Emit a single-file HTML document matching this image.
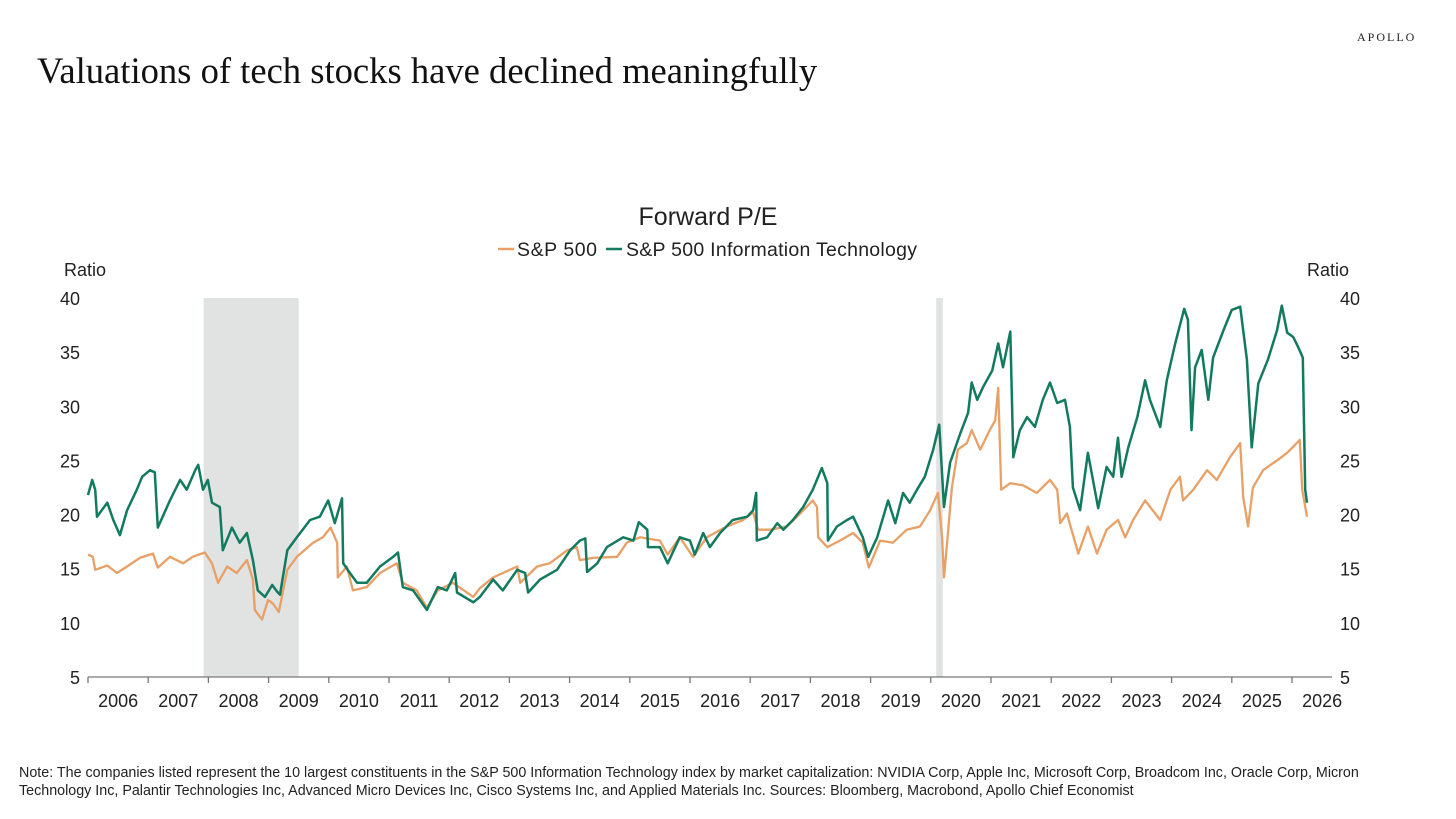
<!DOCTYPE html>
<html><head><meta charset="utf-8">
<style>
html,body{margin:0;padding:0;background:#fff;}
body{width:1456px;height:819px;position:relative;overflow:hidden;font-family:"Liberation Sans",sans-serif;}
#headline{position:absolute;left:37px;top:49px;font-family:"Liberation Serif",serif;font-size:36.6px;color:#111;white-space:nowrap;}
#brand{position:absolute;left:1357px;top:30px;font-family:"Liberation Serif",serif;font-size:12px;letter-spacing:2px;color:#222;}
#note{position:absolute;left:19px;top:764px;width:1415px;font-size:14.3px;line-height:18px;color:#222;}
svg{position:absolute;left:0;top:0;}
</style></head>
<body>
<div id="headline">Valuations of tech stocks have declined meaningfully</div>
<div id="brand">APOLLO</div>
<svg id="chart" width="1456" height="819">
<text x="708" y="225" text-anchor="middle" font-size="25" fill="#222">Forward P/E</text>
<g>
<line x1="498" y1="249" x2="514" y2="249" stroke="#e8a066" stroke-width="2.5"/>
<text x="517" y="256" font-size="19.5" fill="#222" textLength="80">S&amp;P 500</text>
<line x1="606" y1="249" x2="622" y2="249" stroke="#127a5e" stroke-width="2.5"/>
<text x="626" y="256" font-size="19.5" fill="#222" textLength="291">S&amp;P 500 Information Technology</text>
</g>
<text x="64" y="276" font-size="18" fill="#222">Ratio</text>
<text x="1307" y="276" font-size="18" fill="#222">Ratio</text>
<g id="plot"></g>
</svg>
<div id="note">Note: The companies listed represent the 10 largest constituents in the S&amp;P 500 Information Technology index by market capitalization: NVIDIA Corp, Apple Inc, Microsoft Corp, Broadcom Inc, Oracle Corp, Micron Technology Inc, Palantir Technologies Inc, Advanced Micro Devices Inc, Cisco Systems Inc, and Applied Materials Inc. Sources: Bloomberg, Macrobond, Apollo Chief Economist</div>
<script>
const yTicks=[5,10,15,20,25,30,35,40];
const years=[2006,2007,2008,2009,2010,2011,2012,2013,2014,2015,2016,2017,2018,2019,2020,2021,2022,2023,2024,2025,2026];
const recessions=[[2007.92,2009.5],[2020.09,2020.2]];
const techT=[2006.0,2006.07,2006.12,2006.15,2006.32,2006.42,2006.53,2006.65,2006.81,2006.9,2007.03,2007.11,2007.16,2007.36,2007.53,2007.64,2007.78,2007.83,2007.91,2007.99,2008.06,2008.19,2008.24,2008.39,2008.52,2008.64,2008.74,2008.82,2008.94,2009.06,2009.14,2009.19,2009.31,2009.47,2009.69,2009.85,2009.99,2010.1,2010.22,2010.24,2010.35,2010.47,2010.63,2010.85,2011.07,2011.15,2011.23,2011.4,2011.63,2011.81,2011.96,2012.1,2012.13,2012.4,2012.51,2012.73,2012.89,2013.13,2013.26,2013.31,2013.51,2013.79,2014.01,2014.17,2014.26,2014.29,2014.46,2014.62,2014.89,2015.06,2015.15,2015.29,2015.3,2015.5,2015.63,2015.83,2016.0,2016.08,2016.22,2016.33,2016.5,2016.71,2016.95,2017.05,2017.1,2017.11,2017.28,2017.45,2017.55,2017.71,2017.88,2018.04,2018.19,2018.28,2018.29,2018.44,2018.61,2018.71,2018.87,2018.96,2019.11,2019.29,2019.41,2019.54,2019.65,2019.77,2019.9,2020.04,2020.14,2020.22,2020.32,2020.49,2020.62,2020.68,2020.77,2020.87,2021.02,2021.12,2021.2,2021.32,2021.37,2021.48,2021.6,2021.73,2021.86,2021.98,2022.1,2022.23,2022.31,2022.36,2022.48,2022.61,2022.78,2022.92,2023.03,2023.11,2023.17,2023.28,2023.43,2023.56,2023.64,2023.81,2023.92,2024.06,2024.21,2024.27,2024.33,2024.39,2024.5,2024.61,2024.69,2024.86,2025.0,2025.14,2025.25,2025.33,2025.44,2025.6,2025.75,2025.83,2025.92,2026.02,2026.1,2026.18,2026.22,2026.25];
const techV=[21.8,23.2,22.3,19.8,21.1,19.5,18.1,20.4,22.3,23.5,24.1,23.9,18.8,21.3,23.2,22.3,24.1,24.6,22.3,23.2,21.1,20.7,16.7,18.8,17.4,18.3,15.8,13.0,12.4,13.5,12.9,12.6,16.7,17.9,19.5,19.8,21.3,19.2,21.5,15.5,14.6,13.7,13.7,15.2,16.1,16.5,13.3,13.0,11.2,13.3,13.0,14.6,12.8,11.9,12.4,14.0,13.0,14.9,14.6,12.8,14.0,14.9,16.7,17.6,17.8,14.7,15.5,17.0,17.9,17.6,19.3,18.6,17.0,17.0,15.5,17.9,17.6,16.3,18.3,17.0,18.3,19.5,19.8,20.4,22.0,17.6,17.9,19.2,18.6,19.5,20.7,22.3,24.3,22.9,17.6,18.9,19.5,19.8,17.9,16.1,17.9,21.3,19.2,22.0,21.1,22.3,23.5,26.0,28.3,20.7,24.8,27.5,29.4,32.2,30.6,31.8,33.3,35.8,33.6,36.9,25.3,27.8,29.0,28.1,30.6,32.2,30.3,30.6,28.1,22.5,20.4,25.7,20.6,24.4,23.5,27.1,23.5,26.2,29.0,32.4,30.6,28.1,32.4,35.8,39.0,38.0,27.8,33.6,35.2,30.6,34.5,37.0,38.9,39.2,34.3,26.2,32.1,34.3,37.0,39.3,36.8,36.4,35.5,34.5,22.3,21.1];
const spT=[2006.0,2006.08,2006.12,2006.32,2006.48,2006.65,2006.86,2007.08,2007.16,2007.36,2007.58,2007.74,2007.94,2008.06,2008.16,2008.31,2008.47,2008.64,2008.74,2008.77,2008.89,2008.99,2009.07,2009.17,2009.31,2009.47,2009.74,2009.9,2010.03,2010.14,2010.15,2010.3,2010.4,2010.63,2010.85,2011.13,2011.23,2011.46,2011.63,2011.81,2012.06,2012.4,2012.51,2012.73,2013.13,2013.18,2013.46,2013.67,2013.96,2014.12,2014.17,2014.39,2014.79,2014.95,2015.17,2015.5,2015.63,2015.83,2016.05,2016.28,2016.61,2016.88,2017.05,2017.13,2017.33,2017.61,2017.83,2018.04,2018.11,2018.13,2018.28,2018.49,2018.71,2018.87,2018.97,2019.16,2019.37,2019.6,2019.82,2019.99,2020.12,2020.19,2020.22,2020.27,2020.35,2020.45,2020.6,2020.68,2020.82,2020.98,2021.07,2021.12,2021.17,2021.32,2021.53,2021.76,2021.98,2022.1,2022.15,2022.26,2022.45,2022.61,2022.76,2022.92,2023.11,2023.23,2023.36,2023.56,2023.81,2023.98,2024.14,2024.19,2024.36,2024.59,2024.75,2024.97,2025.14,2025.19,2025.27,2025.35,2025.52,2025.75,2025.92,2026.13,2026.17,2026.25];
const spV=[16.3,16.1,14.9,15.3,14.6,15.2,16.0,16.4,15.1,16.1,15.5,16.1,16.5,15.5,13.7,15.2,14.6,15.8,14.0,11.2,10.3,12.1,11.8,11.0,14.9,16.1,17.4,17.9,18.8,17.4,14.2,15.2,13.0,13.3,14.6,15.5,13.7,13.0,11.4,13.0,13.7,12.4,13.2,14.2,15.2,13.7,15.2,15.5,16.7,17.0,15.8,16.0,16.1,17.4,17.9,17.6,16.3,17.9,16.1,17.9,18.9,19.5,20.2,18.6,18.6,18.9,20.1,21.3,20.7,17.9,17.0,17.6,18.3,17.4,15.1,17.6,17.4,18.6,18.9,20.4,22.0,17.7,14.2,17.4,22.5,26.0,26.6,27.8,26.0,27.8,28.7,31.7,22.3,22.9,22.7,22.0,23.2,22.3,19.2,20.1,16.4,18.9,16.4,18.6,19.5,17.9,19.5,21.3,19.5,22.3,23.5,21.3,22.3,24.1,23.2,25.3,26.6,21.6,18.9,22.5,24.1,25.0,25.7,26.9,22.3,19.8];

const NS='http://www.w3.org/2000/svg';
const L=88,R=1332,T=298,B=677;
function x(t){return L+(t-2006)*60.2;}
function y(v){return B-(v-5)*(B-T)/35;}
const g=document.getElementById('plot');
function mk(tag,attrs){const e=document.createElementNS(NS,tag);for(const k in attrs)e.setAttribute(k,attrs[k]);g.appendChild(e);return e;}

recessions.forEach(r=>{
  const e=mk('rect',{x:x(r[0]),y:T,width:x(r[1])-x(r[0]),height:B-T,fill:'#e1e2e2'});
  
  
});
yTicks.forEach(v=>{
  const a=mk('text',{x:80,y:y(v)+7,'text-anchor':'end','font-size':18,fill:'#222'});a.textContent=v;
  
  
  const b=mk('text',{x:1340,y:y(v)+7,'font-size':18,fill:'#222'});b.textContent=v;
  
  
});
const ax=mk('line',{x1:L,y1:B,x2:R,y2:B,stroke:'#777','stroke-width':1.3});


years.forEach(yr=>{
  const tk=mk('line',{x1:x(yr),y1:B,x2:x(yr),y2:B+6,stroke:'#777','stroke-width':1.3});
  
  
  const lb=mk('text',{x:x(yr+0.5),y:707,'text-anchor':'middle','font-size':18,fill:'#222'});lb.textContent=yr;
  
  
});
function path(ts,vs){return ts.map((t,i)=>(i?'L':'M')+x(t).toFixed(1)+' '+y(vs[i]).toFixed(1)).join(' ');}
const sp=mk('path',{d:path(spT,spV),fill:'none',stroke:'#e8a066','stroke-width':2.3,'stroke-linejoin':'round'});


const te=mk('path',{d:path(techT,techV),fill:'none',stroke:'#127a5e','stroke-width':2.5,'stroke-linejoin':'round'});


</script>
</body></html>
